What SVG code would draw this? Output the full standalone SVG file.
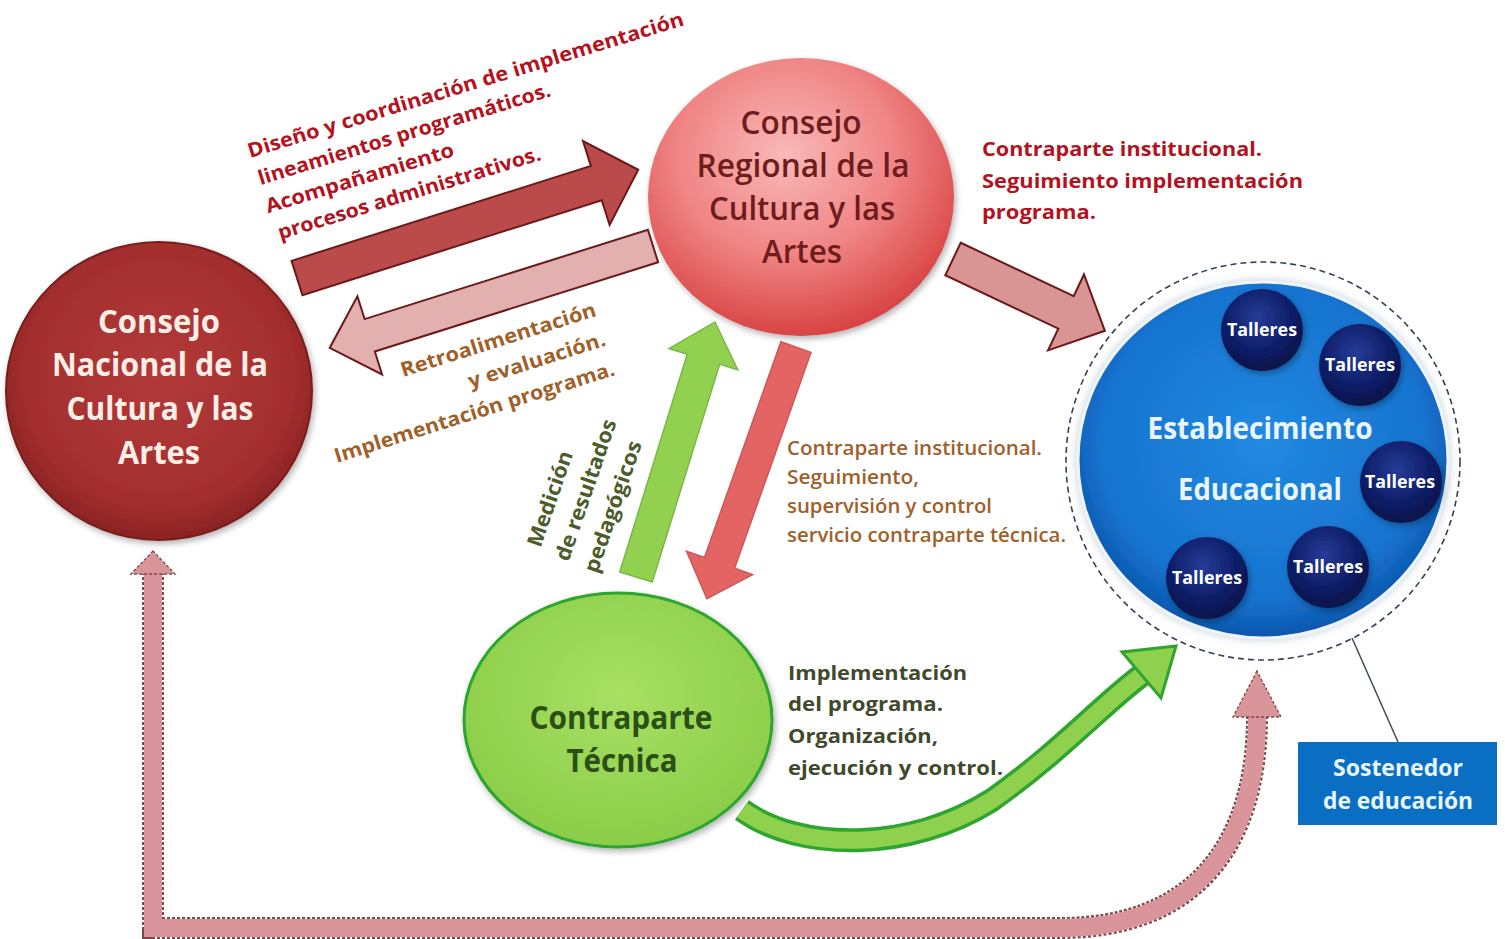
<svg xmlns="http://www.w3.org/2000/svg" width="1505" height="939" viewBox="0 0 1505 939">
<defs>
<style>
.t{font-family:"Open Sans","Noto Sans","Liberation Sans",sans-serif}
.nat{fill:#fbeee6;font-size:32px;font-weight:bold;text-anchor:middle}
.reg{fill:#6e1c1c;font-size:32px;font-weight:600;text-anchor:middle}
.grn{fill:#2c4f16;font-size:32px;font-weight:bold;text-anchor:middle}
.est{fill:#eaf6ff;font-size:30px;font-weight:bold;text-anchor:middle}
.tal{fill:#ffffff;font-size:18px;font-weight:bold;text-anchor:middle}
.red{fill:#b4121e;font-size:20px;font-weight:bold}
.brn{fill:#a0602a;font-size:20px;font-weight:bold}
.brn2{fill:#a0602a;font-size:20px;font-weight:600}
.olv{fill:#3f4a2c;font-size:20px;font-weight:bold}
.med{fill:#4b5d2a;font-size:21px;font-weight:bold;text-anchor:middle}
.sos{fill:#eaf6ff;font-size:24px;font-weight:bold;text-anchor:middle}
</style>
<radialGradient id="natG" cx="50%" cy="45%" r="55%"><stop offset="0" stop-color="#b23a3a"/><stop offset="0.8" stop-color="#a32e2e"/><stop offset="1" stop-color="#8a2222"/></radialGradient>
<radialGradient id="regG" cx="45%" cy="35%" r="65%"><stop offset="0" stop-color="#f9b9b9"/><stop offset="0.55" stop-color="#f08484"/><stop offset="1" stop-color="#d94444"/></radialGradient>
<radialGradient id="grnG" cx="50%" cy="40%" r="60%"><stop offset="0" stop-color="#a8e064"/><stop offset="1" stop-color="#8acd48"/></radialGradient>
<radialGradient id="bluG" cx="50%" cy="45%" r="55%"><stop offset="0" stop-color="#2289e0"/><stop offset="0.8" stop-color="#1673cf"/><stop offset="1" stop-color="#0c56ac"/></radialGradient>
<radialGradient id="talG" cx="45%" cy="35%" r="65%"><stop offset="0" stop-color="#263c98"/><stop offset="0.6" stop-color="#0f1f6a"/><stop offset="1" stop-color="#081248"/></radialGradient>
<filter id="sh" x="-20%" y="-20%" width="140%" height="140%"><feDropShadow dx="2" dy="3" stdDeviation="3" flood-color="#000" flood-opacity="0.3"/></filter>
<filter id="glow" x="-20%" y="-20%" width="140%" height="140%"><feDropShadow dx="0" dy="0" stdDeviation="4" flood-color="#9ab" flood-opacity="0.6"/></filter>
</defs>
<rect width="1505" height="939" fill="#ffffff"/>

<g id="connectors">
  <path d="M153,572 L153,928 L1060,928 C1190,928 1257,850 1257,716" fill="none" stroke="#7d4848" stroke-width="22" stroke-dasharray="3 2"/>
  <path d="M153,572 L153,928 L1060,928 C1190,928 1257,850 1257,716" fill="none" stroke="#d9959a" stroke-width="18"/>
  <polygon points="153,551 131,574 175,574" fill="#d9959a" stroke="#7d4848" stroke-width="1.3" stroke-dasharray="3 2"/>
  <polygon points="1257,671 1233,717 1281,717" fill="#d9959a" stroke="#7d4848" stroke-width="1.3" stroke-dasharray="3 2"/>
  <polygon transform="translate(297,278) rotate(-17.6)" points="0,-18 314,-18 314,-44 358,0 314,44 314,18 0,18" fill="#bb4a4a" stroke="#6b1a1a" stroke-width="2"/>
  <polygon transform="translate(653,246) rotate(162.5)" points="0,-17 297,-17 297,-41 339,0 297,41 297,17 0,17" fill="#e3b0b0" stroke="#6b1a1a" stroke-width="2"/>
  <polygon transform="translate(953,259) rotate(25.3)" points="0,-18 125,-18 125,-42 168,0 125,42 125,18 0,18" fill="#d99594" stroke="#6b1a1a" stroke-width="2"/>
  <polygon transform="translate(636,577) rotate(-72.8)" points="0,-17 228,-17 228,-36 267,0 228,36 228,17 0,17" fill="#92d050" stroke="#7ab84a" stroke-width="1.5"/>
  <polygon transform="translate(796,347) rotate(109.5)" points="0,-16 229,-16 229,-35 267,0 229,35 229,16 0,16" fill="#e46464" stroke="#d05656" stroke-width="1.5"/>
  <path d="M742,810 C800,852 910,852 992,800 C1060,752 1105,702 1142,675" fill="none" stroke="#2ea52e" stroke-width="24"/>
  <path d="M742,810 C800,852 910,852 992,800 C1060,752 1105,702 1142,675" fill="none" stroke="#8fd14f" stroke-width="17"/>
  <polygon points="1176,646 1122,652 1161,698" fill="#8fd14f" stroke="#2ea52e" stroke-width="3"/>
  <line x1="1352" y1="638" x2="1398" y2="742" stroke="#404a55" stroke-width="1.5"/>
</g>

<g id="label-diseno" class="t red" transform="translate(250,158) rotate(-17)">
  <text x="0" y="0" textLength="455" lengthAdjust="spacingAndGlyphs">Diseño y coordinación de implementación</text>
  <text x="2" y="29" textLength="305" lengthAdjust="spacingAndGlyphs">lineamientos programáticos.</text>
  <text x="1" y="58" textLength="196" lengthAdjust="spacingAndGlyphs">Acompañamiento</text>
  <text x="5" y="87" textLength="274" lengthAdjust="spacingAndGlyphs">procesos administrativos.</text>
</g>
<g id="label-retro" class="t brn" transform="translate(403,377) rotate(-17.5)" text-anchor="end">
  <text x="204" y="0" textLength="204" lengthAdjust="spacingAndGlyphs">Retroalimentación</text>
  <text x="204" y="31" textLength="143" lengthAdjust="spacingAndGlyphs">y evaluación.</text>
  <text x="204" y="62" textLength="293" lengthAdjust="spacingAndGlyphs">Implementación programa.</text>
</g>
<g id="label-medicion" class="t med" transform="translate(586,490) rotate(-71)">
  <text x="-20" y="-24" textLength="100" lengthAdjust="spacingAndGlyphs">Medición</text>
  <text x="0" y="7" textLength="148" lengthAdjust="spacingAndGlyphs">de resultados</text>
  <text x="-7" y="38" textLength="138" lengthAdjust="spacingAndGlyphs">pedagógicos</text>
</g>
<g id="label-contraparte-inst" class="t brn2">
  <text x="787" y="455" textLength="255" lengthAdjust="spacingAndGlyphs">Contraparte institucional.</text>
  <text x="787" y="484" textLength="132" lengthAdjust="spacingAndGlyphs">Seguimiento,</text>
  <text x="787" y="513" textLength="205" lengthAdjust="spacingAndGlyphs">supervisión y control</text>
  <text x="787" y="542" textLength="279" lengthAdjust="spacingAndGlyphs">servicio contraparte técnica.</text>
</g>
<g id="label-seguimiento" class="t red">
  <text x="982" y="156" textLength="280" lengthAdjust="spacingAndGlyphs">Contraparte institucional.</text>
  <text x="982" y="188" textLength="321" lengthAdjust="spacingAndGlyphs">Seguimiento implementación</text>
  <text x="982" y="219" textLength="114" lengthAdjust="spacingAndGlyphs">programa.</text>
</g>
<g id="label-implementacion" class="t olv">
  <text x="788" y="680" textLength="179" lengthAdjust="spacingAndGlyphs">Implementación</text>
  <text x="788" y="711" textLength="155" lengthAdjust="spacingAndGlyphs">del programa.</text>
  <text x="788" y="743" textLength="150" lengthAdjust="spacingAndGlyphs">Organización,</text>
  <text x="788" y="775" textLength="215" lengthAdjust="spacingAndGlyphs">ejecución y control.</text>
</g>

<g id="node-nacional">
  <ellipse cx="159" cy="391" rx="153" ry="149" fill="url(#natG)" stroke="#7a1e1e" stroke-width="2" filter="url(#sh)"/>
  <text class="t nat" x="159" y="333" textLength="122" lengthAdjust="spacingAndGlyphs">Consejo</text>
  <text class="t nat" x="160" y="376" textLength="216" lengthAdjust="spacingAndGlyphs">Nacional de la</text>
  <text class="t nat" x="160" y="420" textLength="187" lengthAdjust="spacingAndGlyphs">Cultura y las</text>
  <text class="t nat" x="159" y="464" textLength="82" lengthAdjust="spacingAndGlyphs">Artes</text>
</g>

<g id="node-regional">
  <ellipse cx="801" cy="197" rx="153" ry="139" fill="url(#regG)" filter="url(#sh)"/>
  <text class="t reg" x="801" y="134" textLength="121" lengthAdjust="spacingAndGlyphs">Consejo</text>
  <text class="t reg" x="803" y="177" textLength="213" lengthAdjust="spacingAndGlyphs">Regional de la</text>
  <text class="t reg" x="802" y="220" textLength="186" lengthAdjust="spacingAndGlyphs">Cultura y las</text>
  <text class="t reg" x="802" y="263" textLength="80" lengthAdjust="spacingAndGlyphs">Artes</text>
</g>

<g id="node-tecnica">
  <ellipse cx="618" cy="720" rx="154" ry="127" fill="url(#grnG)" stroke="#2ea52e" stroke-width="3" filter="url(#sh)"/>
  <text class="t grn" x="621" y="729" textLength="183" lengthAdjust="spacingAndGlyphs">Contraparte</text>
  <text class="t grn" x="622" y="772" textLength="111" lengthAdjust="spacingAndGlyphs">Técnica</text>
</g>

<g id="node-establecimiento">
  <ellipse cx="1263" cy="461" rx="197" ry="199" fill="none" stroke="#34405a" stroke-width="1.6" stroke-dasharray="6 4"/>
  <ellipse cx="1263" cy="460" rx="185" ry="178" fill="url(#bluG)" stroke="#eef4fb" stroke-width="3" filter="url(#glow)"/>
  <text class="t est" x="1260" y="439" textLength="225" lengthAdjust="spacingAndGlyphs">Establecimiento</text>
  <text class="t est" x="1260" y="500" textLength="164" lengthAdjust="spacingAndGlyphs">Educacional</text>
</g>

<g id="node-talleres-1"><circle cx="1262" cy="330" r="41" fill="url(#talG)" filter="url(#sh)"/><text class="t tal" x="1262" y="336" textLength="70" lengthAdjust="spacingAndGlyphs">Talleres</text></g>
<g id="node-talleres-2"><circle cx="1360" cy="365" r="41" fill="url(#talG)" filter="url(#sh)"/><text class="t tal" x="1360" y="371" textLength="70" lengthAdjust="spacingAndGlyphs">Talleres</text></g>
<g id="node-talleres-3"><circle cx="1401" cy="482" r="41" fill="url(#talG)" filter="url(#sh)"/><text class="t tal" x="1400" y="488" textLength="70" lengthAdjust="spacingAndGlyphs">Talleres</text></g>
<g id="node-talleres-4"><circle cx="1328" cy="567" r="41" fill="url(#talG)" filter="url(#sh)"/><text class="t tal" x="1328" y="573" textLength="70" lengthAdjust="spacingAndGlyphs">Talleres</text></g>
<g id="node-talleres-5"><circle cx="1207" cy="578" r="41" fill="url(#talG)" filter="url(#sh)"/><text class="t tal" x="1207" y="584" textLength="70" lengthAdjust="spacingAndGlyphs">Talleres</text></g>

<g id="node-sostenedor">
  <rect x="1298" y="742" width="199" height="83" fill="#0a6fc2"/>
  <text class="t sos" x="1398" y="776" textLength="130" lengthAdjust="spacingAndGlyphs">Sostenedor</text>
  <text class="t sos" x="1398" y="809" textLength="150" lengthAdjust="spacingAndGlyphs">de educación</text>
</g>
</svg>
